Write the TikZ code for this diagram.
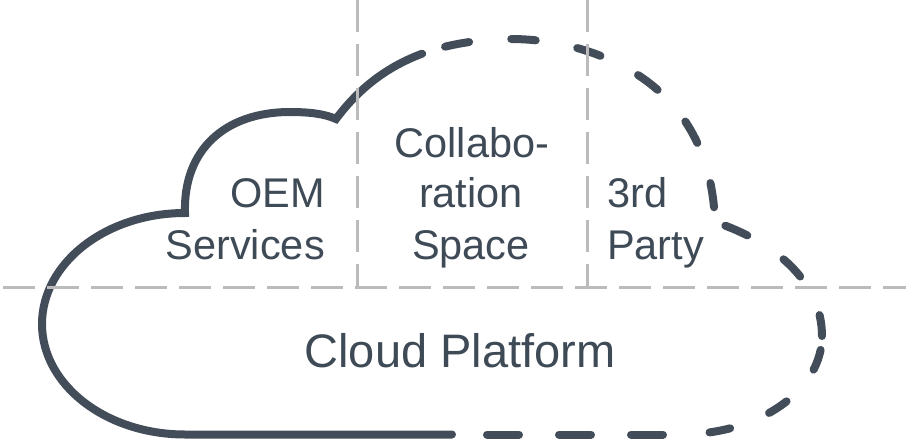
\documentclass[tikz,border=0pt]{standalone}
\usepackage{fontspec}
\setmainfont{Liberation Sans}
\definecolor{cloudink}{HTML}{424D59}
\definecolor{labelink}{HTML}{3F4A57}
\definecolor{gridgray}{HTML}{BBBBBB}
\begin{document}
\begin{tikzpicture}[x=1pt,y=-1pt,
  cloudline/.style={draw=cloudink, line width=8pt, line cap=round},
  cloudsolid/.style={cloudline, line join=miter},
  clouddash/.style={cloudline, line join=round},
  divider/.style={draw=gridgray, line width=3pt, dash pattern=on 32pt off 12pt},
  areatext/.style={text=labelink, font=\fontsize{41.5}{50}\selectfont, inner sep=0pt},
  basetext/.style={text=labelink, font=\fontsize{47}{56}\selectfont, inner sep=0pt}]
\useasboundingbox (0,0) rectangle (906,442);

% solid half of the cloud outline: bottom edge, left lobe, middle lobe, start of top lobe
\draw[cloudsolid] (452,434.5) -- (185,434.5)
  .. controls (106,434.5) and (42,385) .. (42,324)
  .. controls (42,263) and (106,213) .. (185,213)
  .. controls (183,150) and (225,112) .. (290,112)
  .. controls (310,112) and (325,114) .. (336,119)
  .. controls (360.2,86.55) and (389.2,65.9) .. (422.1,53.7);

% dashed half, drawn piece by piece so each stretch keeps its own dash rhythm
% rest of the top lobe
\draw[clouddash, dash pattern=on 24.5pt off 42.3pt, dash phase=42.8pt] (422.1,53.7)
  .. controls (449.0,43.75) and (478.5,39.45) .. (510,39)
  .. controls (570,39) and (625,60) .. (660,92)
  .. controls (695,124) and (713,168) .. (715,222);
% right lobe, upper quarter
\draw[clouddash, dash pattern=on 24pt off 43.5pt, dash phase=56.5pt] (715,222)
  .. controls (775,242) and (822,282) .. (822,336);
% right lobe, lower quarter
\draw[clouddash, dash pattern=on 21pt off 42pt, dash phase=49pt] (822,336)
  .. controls (822,390) and (760,434.5) .. (680,434.5);
% bottom edge
\draw[clouddash, dash pattern=on 32pt off 40pt, dash phase=55pt] (680,434.5) -- (480,434.5);

% area dividers
\draw[divider] (357.5,0) -- (357.5,289);
\draw[divider] (587.5,0) -- (587.5,289);
\draw[divider, dash phase=41pt] (0,287.5) -- (906,287.5);

% labels
\node[areatext, anchor=base east] (oemA) at (325,207) {OEM};
\node[areatext, anchor=base east] (oemB) at (325,259) {Services};
\node[areatext, anchor=base] (colA) at (472,157) {Collabo-};
\node[areatext, anchor=base] (colB) at (471,207) {ration};
\node[areatext, anchor=base] (colC) at (471,259) {Space};
\node[areatext, anchor=base west] (thirdA) at (607,207) {3rd};
\node[areatext, anchor=base west] (thirdB) at (607,259) {Party};
\node[basetext, anchor=base] (platform) at (460,367) {Cloud Platform};
\end{tikzpicture}
\end{document}
